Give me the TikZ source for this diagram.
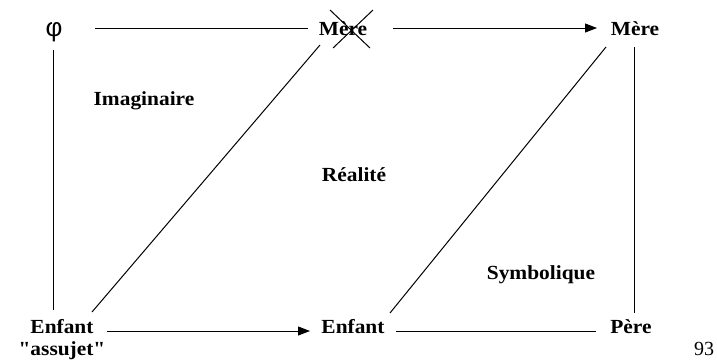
\documentclass[tikz,border=0pt]{standalone}
\usepackage{graphicx}
\usepackage{fontspec}
\setmainfont{Liberation Serif}[Ligatures=TeXOff]
\newfontfamily\phifont{Liberation Sans}
\usetikzlibrary{arrows.meta}
\newcommand{\widetxt}[1]{\scalebox{1.07}[1]{#1}}
\begin{document}
\begin{tikzpicture}[x=1pt,y=-1pt,
  lbl/.style={anchor=base, inner sep=0pt, font=\fontsize{20}{22}\selectfont\bfseries},
  conn/.style={line width=1pt, black},
  arr/.style={conn, -{Triangle[length=12pt,width=9pt]}}]
\useasboundingbox (0,0) rectangle (717,360);
\fill[white] (0,0) rectangle (717,360);
\node[anchor=base, inner sep=0pt, font=\phifont\fontsize{26}{28}\selectfont] (phi) at (54,36) {φ};
\node[lbl] (mere1) at (343,35) {\widetxt{Mère}};
\node[lbl] (mere2) at (635,35) {\widetxt{Mère}};
\node[lbl] (enf1) at (62,333) {\widetxt{Enfant}};
\node[lbl] (assu) at (62,355) {\widetxt{"assujet"}};
\node[lbl] (enf2) at (353,333) {\widetxt{Enfant}};
\node[lbl] (pere) at (631,333) {\widetxt{Père}};
\node[lbl] (imag) at (144,105) {\widetxt{Imaginaire}};
\node[lbl] (real) at (354,181) {\widetxt{Réalité}};
\node[lbl] (symb) at (541,279) {\widetxt{Symbolique}};
\node[anchor=base, inner sep=0pt, font=\fontsize{20}{22}\selectfont] (n93) at (704,355) {93};
% connectors
\draw[conn] ([shift={(41,-8)}]phi.base) -- ([shift={(-35,-7)}]mere1.base);
\draw[arr] ([shift={(50,-7)}]mere1.base) -- ([shift={(-38,-7)}]mere2.base);
\draw[conn] ([shift={(-1,14)}]phi.base) -- ([shift={(-9,-23)}]enf1.base);
\draw[conn] ([shift={(30,-21)}]enf1.base) -- ([shift={(-23,10)}]mere1.base);
\draw[arr] ([shift={(45,-2)}]enf1.base) -- ([shift={(-43,-2)}]enf2.base);
\draw[conn] ([shift={(43,-2)}]enf2.base) -- ([shift={(-35,-2)}]pere.base);
\draw[conn] ([shift={(-29,12)}]mere2.base) -- ([shift={(37,-20)}]enf2.base);
\draw[conn] ([shift={(-1,12)}]mere2.base) -- ([shift={(3,-20)}]pere.base);
% cross over Mère
\draw[conn] ([shift={(-13,-25)}]mere1.base) -- ([shift={(27,13)}]mere1.base);
\draw[conn] ([shift={(-10,13)}]mere1.base) -- ([shift={(30,-25)}]mere1.base);
\end{tikzpicture}
\end{document}
